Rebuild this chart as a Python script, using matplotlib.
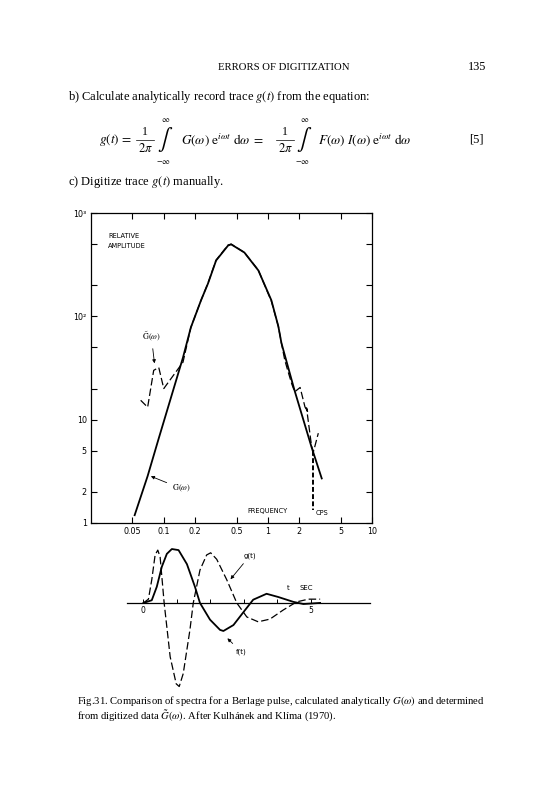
import matplotlib
matplotlib.use('Agg')
import matplotlib.pyplot as plt

plt.rcParams['mathtext.fontset'] = 'stix'

# spectra (frequency in cps, relative amplitude)
freq_G = [0.0525, 0.070, 0.0895, 0.153, 0.182, 0.228, 0.266, 0.318, 0.415, 0.444,
          0.594, 0.81, 1.08, 1.26, 1.35, 1.80, 2.63, 3.29]
amp_G = [1.19, 2.85, 6.6, 40, 78, 143, 208, 347, 485, 497,
         415, 278, 143, 80, 55, 19.3, 5.4, 2.7]

freq_Gt = [0.060, 0.070, 0.080, 0.0895, 0.100, 0.153, 0.182, 0.228, 0.266, 0.318,
           0.415, 0.444, 0.594, 0.81, 1.08, 1.26, 1.35, 1.45, 1.55, 1.70, 1.81,
           2.04, 2.27, 2.41, 2.35, 2.63, 2.74, 3.05]
amp_Gt = [15.4, 13.2, 30, 32, 20, 36, 78, 143, 210, 350,
          490, 500, 415, 280, 140, 80, 55, 38, 30, 22, 18.6,
          20.5, 13.3, 11.9, 13, 5.5, 4.9, 7.4]

drop_freq = [2.69, 2.69]
drop_amp = [5.0, 1.35]

ytick_vals = [1, 2, 5, 10, 20, 50, 100, 200, 500, 1000]
ytick_text = ['1', '2', '5', '10', '', '', '10²', '', '', '10³']
xtick_vals = [0.05, 0.1, 0.2, 0.5, 1, 2, 5, 10]
xtick_text = ['0.05', '0.1', '0.2', '0.5', '1', '2', '5', '10']

# Berlage pulse f(t) and record trace g(t), time in sec, amplitude relative to f peak
t_f = [0, 0.25, 0.40, 0.55, 0.70, 0.85, 1.05, 1.30, 1.54, 1.69, 1.99, 2.29, 2.39,
       2.69, 3.04, 3.28, 3.68, 4.03, 4.48, 4.78, 5.28]
f_t = [0, 0.05, 0.30, 0.67, 0.91, 1.0, 0.98, 0.72, 0.30, 0, -0.31, -0.50, -0.52,
       -0.41, -0.13, 0.06, 0.17, 0.11, 0.02, -0.02, 0]

t_g = [0, 0.15, 0.25, 0.35, 0.43, 0.50, 0.62, 0.80, 0.98, 1.07, 1.19, 1.39, 1.49,
       1.69, 1.89, 2.01, 2.19, 2.49, 2.79, 3.09, 3.43, 3.78, 4.18, 4.58, 4.93, 5.28]
g_t = [0, 0.07, 0.43, 0.89, 0.98, 0.85, 0, -1.0, -1.50, -1.55, -1.31, -0.5, 0,
       0.61, 0.89, 0.93, 0.81, 0.43, 0, -0.26, -0.35, -0.30, -0.13, 0.02, 0.07, 0.07]

W, H = 555, 800
fig = plt.figure(figsize=(W / 100, H / 100), dpi=100)
serif = 'Liberation Serif'
sans = 'DejaVu Sans'


def px(x, y):
    return x / W, 1 - y / H


# page text
fig.text(*px(284, 67), 'ERRORS OF DIGITIZATION', family=serif, fontsize=7.7,
         ha='center', va='center')
fig.text(*px(486, 67), '135', family=serif, fontsize=8.8, ha='right', va='center')
fig.text(*px(68, 97), r'b) Calculate analytically record trace $g(t)$ from the equation:',
         family=serif, fontsize=9, va='center')
fig.text(*px(99, 140), r'$g(t)\,=$', fontsize=9.5, va='center')
fig.text(*px(145, 132), '1', family=serif, fontsize=8.5, ha='center', va='center')
fig.text(*px(145, 149), r'$2\pi$', fontsize=9, ha='center', va='center')
fig.lines.append(plt.Line2D([136 / W, 154 / W], [1 - 140 / H, 1 - 140 / H],
                            transform=fig.transFigure, color='k', lw=0.5))
fig.text(*px(165, 140), r'$\int$', fontsize=16, ha='center', va='center')
fig.text(*px(166, 120), r'$\infty$', fontsize=6, ha='center', va='center')
fig.text(*px(163, 161), r'$-\infty$', fontsize=6, ha='center', va='center')
fig.text(*px(181, 140), r'$G(\omega)\ \mathrm{e}^{i\omega t}\ \mathrm{d}\omega\ =$',
         fontsize=9.5, va='center')
fig.text(*px(285, 132), '1', family=serif, fontsize=8.5, ha='center', va='center')
fig.text(*px(285, 149), r'$2\pi$', fontsize=9, ha='center', va='center')
fig.lines.append(plt.Line2D([276 / W, 294 / W], [1 - 140 / H, 1 - 140 / H],
                            transform=fig.transFigure, color='k', lw=0.5))
fig.text(*px(304, 140), r'$\int$', fontsize=16, ha='center', va='center')
fig.text(*px(305, 120), r'$\infty$', fontsize=6, ha='center', va='center')
fig.text(*px(302, 161), r'$-\infty$', fontsize=6, ha='center', va='center')
fig.text(*px(318, 140), r'$F(\omega)\ I(\omega)\ \mathrm{e}^{i\omega t}\ \mathrm{d}\omega$',
         fontsize=9.5, va='center')
fig.text(*px(484, 140), '[5]', family=serif, fontsize=9, ha='right', va='center')
fig.text(*px(68, 182), r'c) Digitize trace $g(t)$ manually.', family=serif,
         fontsize=9, va='center')

fig.text(*px(77, 701), r'Fig.31. Comparison of spectra for a Berlage pulse, calculated analytically $G(\omega)$ and determined',
         family=serif, fontsize=7.7, va='center')
fig.text(*px(77, 716), r'from digitized data $\tilde{G}(\omega)$. After Kulhánek and Klíma (1970).',
         family=serif, fontsize=7.7, va='center')

# log-log spectra
ax = fig.add_axes([91 / W, 1 - 523 / H, 281 / W, 310 / H])
ax.set_xscale('log')
ax.set_yscale('log')
ax.plot(freq_G, amp_G, c='k', lw=1.3)
ax.plot(freq_Gt, amp_Gt, c='k', lw=0.9, ls=(0, (6, 2.5)))
ax.plot(drop_freq, drop_amp, c='k', lw=1.4, ls=(0, (2.5, 1.2)))
ax.set_xlim(0.02, 10)
ax.set_ylim(1, 1000)
ax.set_xticks(xtick_vals)
ax.set_xticklabels(xtick_text)
ax.set_yticks(ytick_vals)
ax.set_yticklabels(ytick_text)
ax.minorticks_off()
ax.tick_params(direction='in', length=4, width=0.8, top=True, right=True,
               labelsize=5.8, pad=3)
for s in ax.spines.values():
    s.set_linewidth(0.9)
for lab in ax.get_xticklabels() + ax.get_yticklabels():
    lab.set_family(sans)

ax.text(0.062, 0.935, 'RELATIVE\nAMPLITUDE', transform=ax.transAxes, family=sans,
        fontsize=4.8, va='top', linespacing=1.7)
ax.annotate(r'$\tilde{\mathrm{G}}(\omega)$', xy=(0.082, 33), xytext=(0.076, 55),
            fontsize=6, ha='center', va='bottom',
            arrowprops=dict(arrowstyle='-|>', lw=0.6, color='k', mutation_scale=5))
ax.annotate(r'$\mathrm{G}(\omega)$', xy=(0.071, 2.9), xytext=(0.12, 2.15),
            fontsize=6, ha='left', va='center',
            arrowprops=dict(arrowstyle='-|>', lw=0.6, color='k', mutation_scale=5))
ax.text(1.0, 1.3, 'FREQUENCY', family=sans, fontsize=4.8, ha='center', va='center')
ax.text(2.85, 1.25, 'CPS', family=sans, fontsize=4.8, ha='left', va='center')

# time traces
ax2 = fig.add_axes([127 / W, 1 - 700 / H, 243 / W, 165 / H])
ax2.plot(t_f, f_t, c='k', lw=1.3)
ax2.plot(t_g, g_t, c='k', lw=0.9, ls=(0, (6, 2.5)))
ax2.set_xlim(-0.49, 6.77)
ax2.set_ylim(-1.80, 1.26)
for k in ['top', 'left', 'right']:
    ax2.spines[k].set_visible(False)
ax2.spines['bottom'].set_position(('data', 0))
ax2.spines['bottom'].set_linewidth(0.9)
ax2.set_yticks([])
ax2.set_xticks([0, 1, 2, 3, 4, 5])
ax2.set_xticklabels(['0', '', '', '', '', '5'])
ax2.tick_params(axis='x', direction='in', length=3, width=0.7, labelsize=5.5, pad=2)
for lab in ax2.get_xticklabels():
    lab.set_family(sans)
ax2.patch.set_alpha(0)
ax2.annotate('g(t)', xy=(2.55, 0.40), xytext=(3.0, 0.88), family=sans, fontsize=5,
             va='center', arrowprops=dict(arrowstyle='-|>', lw=0.6, color='k',
                                          mutation_scale=5))
ax2.annotate('f(t)', xy=(2.45, -0.62), xytext=(2.75, -0.90), family=sans, fontsize=5,
             va='center', arrowprops=dict(arrowstyle='-|>', lw=0.6, color='k',
                                          mutation_scale=5))
ax2.text(4.3, 0.27, 't', family=sans, fontsize=5, va='center')
ax2.text(4.65, 0.27, 'SEC', family=sans, fontsize=5, va='center')

plt.savefig('out.png', dpi=100)
